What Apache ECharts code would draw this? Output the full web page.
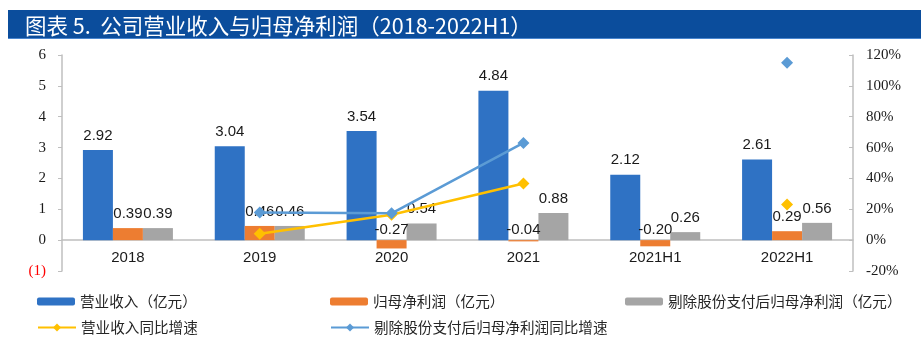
<!DOCTYPE html>
<html>
<head>
<meta charset="utf-8">
<script src="https://cdn.jsdelivr.net/npm/echarts@6/dist/echarts.min.js"></script>
<style>
html,body{margin:0;padding:0;background:#fff;}
#c{width:921px;height:339px;}
</style>
</head>
<body>
<div id="c"></div>
<script>
const categories = ['2018', '2019', '2020', '2021', '2021H1', '2022H1'];
const revenue = [2.92, 3.04, 3.54, 4.84, 2.12, 2.61];
const netProfit = [0.39, 0.46, -0.27, -0.04, -0.20, 0.29];
const adjNetProfit = [0.39, 0.46, 0.54, 0.88, 0.26, 0.56];
const revenueGrowth = [null, 4.1, 16.4, 36.7, null, 23.1];
const adjProfitGrowth = [null, 17.9, 17.4, 63.0, null, 115.0];
const leftTicks = { min: -1, max: 6, interval: 1 };
const rightTicks = { min: -20, max: 120, interval: 20 };
const names = ['营业收入（亿元）', '归母净利润（亿元）', '剔除股份支付后归母净利润（亿元）', '营业收入同比增速', '剔除股份支付后归母净利润同比增速'];

const sans = 'Liberation Sans, Arial, sans-serif';
const serif = 'Liberation Serif, Times New Roman, serif';
const cjk = 'Noto Sans CJK SC, sans-serif';

function barData(arr) {
  return arr.map(v => v < 0 ? { value: v, label: { distance: 3 } } : v);
}
const labelStyle = { show: true, position: 'top', distance: 7, fontFamily: sans, fontSize: 15, color: '#1a1a1a', formatter: p => p.value.toFixed(2) };

const chart = echarts.init(document.getElementById('c'), null, { renderer: 'canvas' });
function legend(name, left, top, isLine) {
  return {
    data: [name], left: left, top: top, padding: 0, itemGap: 0,
    itemWidth: 38, itemHeight: isLine ? 10 : 8,
    textStyle: { fontFamily: cjk, fontSize: 14.6, color: '#262626', lineHeight: 16 },
    selectedMode: false
  };
}
chart.setOption({
  animation: false,
  title: {
    text: '图表 5.  公司营业收入与归母净利润（2018-2022H1）',
    left: 20, top: 10,
    textStyle: { color: '#ffffff', fontSize: 21.5, fontWeight: 'normal', fontFamily: cjk }
  },
  graphic: [
    { type: 'rect', z: -1, shape: { x: 8, y: 10, width: 913, height: 29 }, style: { fill: '#0b4d9c' } },
    { type: 'rect', z: -1, shape: { x: 8, y: 38, width: 913, height: 1 }, style: { fill: '#4a86cf' } }
  ],
  legend: [
    legend(names[0], 37, 293.5, false),
    legend(names[1], 330, 293.5, false),
    legend(names[2], 625, 293.5, false),
    legend(names[3], 37, 319.5, true),
    legend(names[4], 330, 319.5, true)
  ],
  grid: { left: 62, right: 68, top: 55, bottom: 68 },
  xAxis: {
    type: 'category', data: categories,
    axisLine: { onZero: true, lineStyle: { color: '#bfbfbf', width: 1.5 } },
    axisTick: { show: false },
    axisLabel: { fontFamily: sans, fontSize: 15, color: '#1a1a1a', margin: -21 }
  },
  yAxis: [
    {
      type: 'value', min: leftTicks.min, max: leftTicks.max, interval: leftTicks.interval,
      splitLine: { show: false },
      axisLine: { show: true, lineStyle: { color: '#bfbfbf', width: 1.5 } },
      axisTick: { show: true, length: 4, lineStyle: { color: '#bfbfbf' } },
      axisLabel: {
        fontFamily: serif, fontSize: 15, color: '#1a1a1a', margin: 16,
        formatter: v => v < 0 ? '{r|(' + (-v) + ')}' : String(v),
        rich: { r: { color: '#ff0000', fontFamily: serif, fontSize: 15 } }
      }
    },
    {
      type: 'value', min: rightTicks.min, max: rightTicks.max, interval: rightTicks.interval,
      splitLine: { show: false },
      axisLine: { show: true, lineStyle: { color: '#bfbfbf', width: 1.5 } },
      axisTick: { show: true, inside: true, length: 4, lineStyle: { color: '#bfbfbf' } },
      axisLabel: { fontFamily: serif, fontSize: 15, color: '#1a1a1a', margin: 13, formatter: '{value}%' }
    }
  ],
  series: [
    { name: names[0], type: 'bar', data: barData(revenue), barWidth: 30, barGap: '0%', itemStyle: { color: '#2f72c4' }, label: labelStyle },
    { name: names[1], type: 'bar', data: barData(netProfit), barWidth: 30, barGap: '0%', itemStyle: { color: '#ed7d31' }, label: labelStyle },
    { name: names[2], type: 'bar', data: barData(adjNetProfit), barWidth: 30, barGap: '0%', itemStyle: { color: '#a5a5a5' }, label: labelStyle },
    { name: names[3], type: 'line', yAxisIndex: 1, data: revenueGrowth, connectNulls: false, symbol: 'diamond', symbolSize: 12, showSymbol: true, z: 5,
      lineStyle: { color: '#ffc000', width: 2.5 }, itemStyle: { color: '#ffc000' } },
    { name: names[4], type: 'line', yAxisIndex: 1, data: adjProfitGrowth, connectNulls: false, symbol: 'diamond', symbolSize: 12, showSymbol: true, z: 5,
      lineStyle: { color: '#5b9bd5', width: 2.5 }, itemStyle: { color: '#5b9bd5' } }
  ]
});
</script>
</body>
</html>
